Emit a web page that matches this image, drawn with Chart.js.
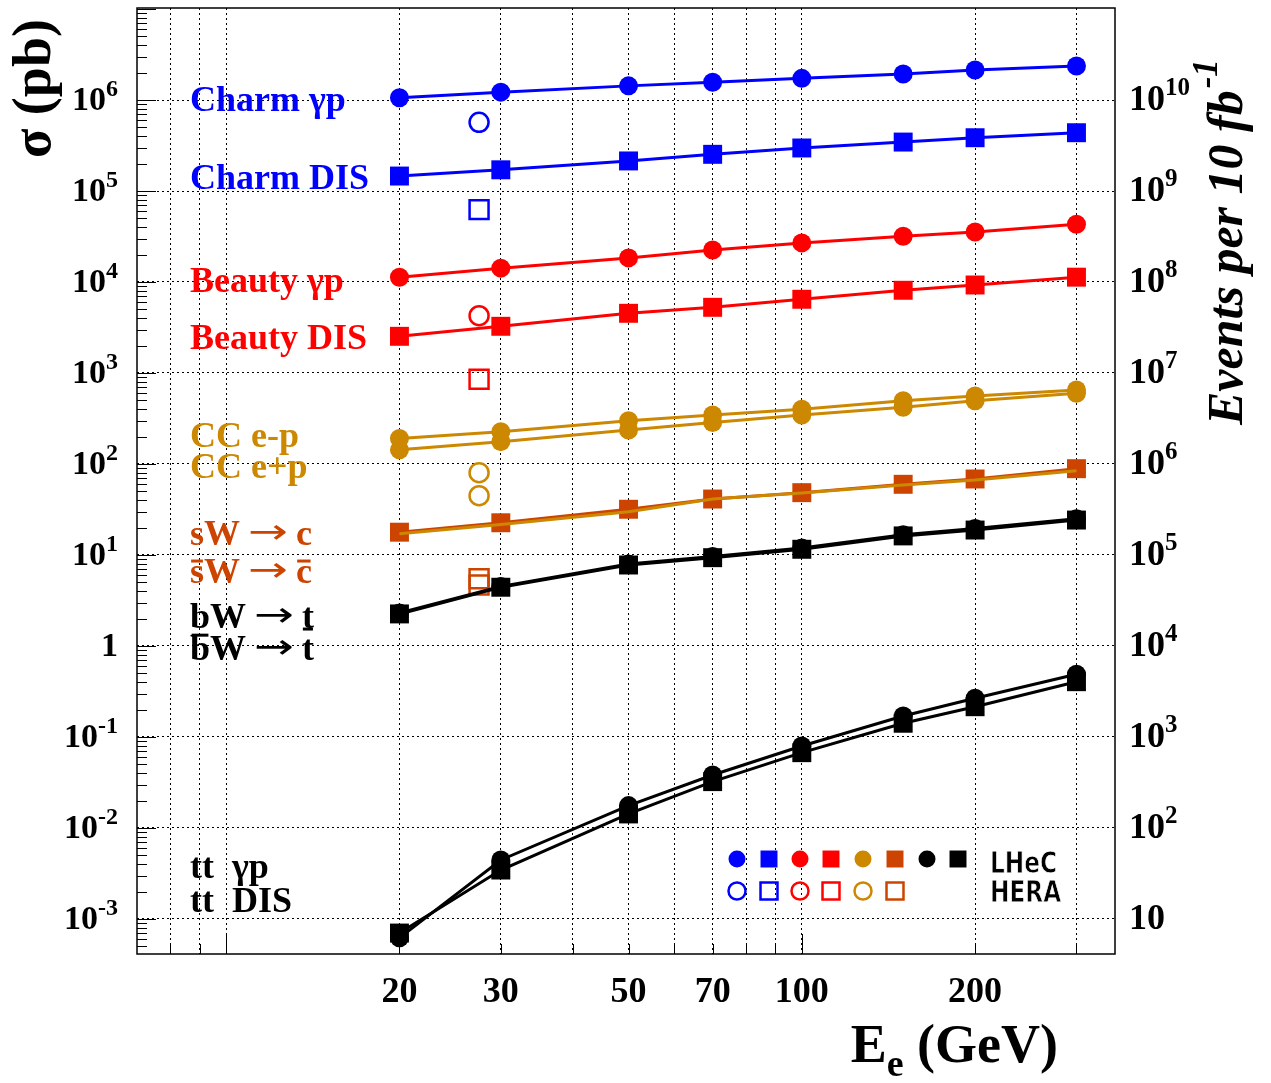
<!DOCTYPE html>
<html>
<head>
<meta charset="utf-8">
<script src="https://cdn.jsdelivr.net/npm/chart.js@4.4.0/dist/chart.umd.min.js"></script>
<style>
  body { margin: 0; background: #fff; }
  canvas { display: block; }
</style>
</head>
<body>
<canvas id="chart" width="1271" height="1083"></canvas>
<script>
// electron beam energies (GeV), HERA sits at 27.5
const energies = [20, 30, 50, 70, 100, 150, 200, 300];
const heraEnergy = 27.5;

// cross sections in pb
const charmGp   = [1.06e6, 1.22e6, 1.43e6, 1.57e6, 1.73e6, 1.93e6, 2.14e6, 2.37e6];
const charmDis  = [1.46e5, 1.71e5, 2.14e5, 2.53e5, 2.97e5, 3.45e5, 3.85e5, 4.37e5];
const beautyGp  = [1.13e4, 1.42e4, 1.84e4, 2.25e4, 2.69e4, 3.18e4, 3.54e4, 4.31e4];
const beautyDis = [2530, 3260, 4530, 5270, 6460, 8110, 9270, 11300];
const ccEminus  = [191, 226, 299, 345, 399, 496, 559, 650];
const ccEplus   = [143, 176, 236, 285, 345, 420, 496, 598];
const sWc       = [17.8, 22.6, 31.8, 41.2, 48.4, 59.8, 68.4, 88.8];
const sbarWc    = [17.1, 21.6, 29.9, 41.2, 48.0, 58.8, 66.7, 84.4];
const bWt       = [2.3, 4.5, 7.95, 9.6, 11.9, 16.7, 19.5, 25.0];
const bbarWt    = [2.25, 4.42, 7.76, 9.34, 11.55, 16.2, 18.8, 24.2];
const ttGp      = [6.2e-4, 4.45e-3, 0.0176, 0.0382, 0.0796, 0.170, 0.266, 0.489];
const ttDis     = [7.0e-4, 3.45e-3, 0.01426, 0.0323, 0.0672, 0.1415, 0.215, 0.405];

// HERA points: charm gp, charm DIS, beauty gp, beauty DIS, CC e-p, CC e+p, sW->c, sbarW->cbar
const heraValues = [5.69e5, 6.24e4, 4260, 853, 80.2, 44.8, 5.48, 4.68];

// axes
const xTickLabels = [20, 30, 50, 70, 100, 200];
const xGridValues = [8, 9, 10, 20, 30, 40, 50, 60, 70, 80, 90, 100, 200, 300];
const leftExponents = [-3, -2, -1, 0, 1, 2, 3, 4, 5, 6];
const rightExponents = [1, 2, 3, 4, 5, 6, 7, 8, 9, 10];
const lumiFactor = 1e4; // 10 fb^-1 = 1e4 pb^-1
const yMin = 4.12e-4, yMax = 1.026e7;

const BLUE = '#0000ff', RED = '#ff0000', GOLD = '#cc8800', RUST = '#cc4400', BLACK = '#000000';
const SERIF = "'Liberation Serif', 'Times New Roman', serif";

function series(label, values, color, style, order) {
  return {
    label: label,
    data: energies.map((e, i) => ({ x: e, y: values[i] })),
    borderColor: color,
    backgroundColor: color,
    borderWidth: 3,
    pointStyle: style,
    pointRadius: style === 'rect' ? 13.4 : 9.5,
    pointBorderWidth: 0,
    pointBackgroundColor: color,
    order: order
  };
}

function hera(label, value, color, style) {
  return {
    label: label,
    data: [{ x: heraEnergy, y: value }],
    showLine: false,
    borderColor: color,
    backgroundColor: 'rgba(0,0,0,0)',
    pointStyle: style,
    pointRadius: style === 'rect' ? 13.4 : 9.5,
    pointBorderWidth: 2.5,
    pointBorderColor: color,
    pointBackgroundColor: 'rgba(0,0,0,0)',
    order: 20
  };
}

let sbarLine = series('sbarW -> cbar', sbarWc, GOLD, 'rect', 0);
sbarLine.pointRadius = 0;

const datasets = [
  series('Charm gp', charmGp, BLUE, 'circle', 10),
  series('Charm DIS', charmDis, BLUE, 'rect', 10),
  series('Beauty gp', beautyGp, RED, 'circle', 10),
  series('Beauty DIS', beautyDis, RED, 'rect', 10),
  series('CC e-p', ccEminus, GOLD, 'circle', 10),
  series('CC e+p', ccEplus, GOLD, 'circle', 9),
  series('sW -> c', sWc, RUST, 'rect', 2),
  sbarLine,
  series('bW -> t', bWt, BLACK, 'circle', 6),
  series('bbarW -> tbar', bbarWt, BLACK, 'rect', 5),
  series('tt gp', ttGp, BLACK, 'circle', 6),
  series('tt DIS', ttDis, BLACK, 'rect', 5),
  hera('HERA charm gp', heraValues[0], BLUE, 'circle'),
  hera('HERA charm DIS', heraValues[1], BLUE, 'rect'),
  hera('HERA beauty gp', heraValues[2], RED, 'circle'),
  hera('HERA beauty DIS', heraValues[3], RED, 'rect'),
  hera('HERA CC e-p', heraValues[4], GOLD, 'circle'),
  hera('HERA CC e+p', heraValues[5], GOLD, 'circle'),
  hera('HERA sW', heraValues[6], RUST, 'rect'),
  hera('HERA sbarW', heraValues[7], RUST, 'rect')
];

// text drawn inside the frame, next to each group of curves
const arrow = { t: '→', arrow: true };
const curveLabels = [
  { parts: [{ t: 'Charm γp' }], color: BLUE, y: 111 },
  { parts: [{ t: 'Charm DIS' }], color: BLUE, y: 189 },
  { parts: [{ t: 'Beauty γp' }], color: RED, y: 292 },
  { parts: [{ t: 'Beauty DIS' }], color: RED, y: 349 },
  { parts: [{ t: 'CC e-p' }], color: GOLD, y: 447 },
  { parts: [{ t: 'CC e+p' }], color: GOLD, y: 478 },
  { parts: [{ t: 'sW' }, arrow, { t: 'c' }], color: RUST, y: 545 },
  { parts: [{ t: 's', bar: 0.61 }, { t: 'W' }, arrow, { t: 'c', bar: 0.61 }], color: RUST, y: 583 },
  { parts: [{ t: 'bW' }, arrow, { t: 't' }], color: BLACK, y: 628 },
  { parts: [{ t: 'b', bar: 0.69 }, { t: 'W' }, arrow, { t: 't', bar: 0.86 }], color: BLACK, y: 660 },
  { parts: [{ t: 'tt' }, { t: 'γp', x: 232 }], color: BLACK, y: 878 },
  { parts: [{ t: 'tt' }, { t: 'DIS', x: 232 }], color: BLACK, y: 912 }
];

const legendFilled = [[BLUE, 'circle'], [BLUE, 'rect'], [RED, 'circle'], [RED, 'rect'],
  [GOLD, 'circle'], [RUST, 'rect'], [BLACK, 'circle'], [BLACK, 'rect']];
const legendOpen = [[BLUE, 'circle'], [BLUE, 'rect'], [RED, 'circle'], [RED, 'rect'],
  [GOLD, 'circle'], [RUST, 'rect']];
const legendX = [737, 769, 800, 831, 863, 895, 927, 958];

function powerText(ctx, exp, x, y, align, size, plainTen) {
  let base = '10', sup = String(exp);
  if (exp === 0) { base = '1'; sup = ''; }
  if (exp === 1 && plainTen) sup = '';
  const supSize = Math.round(size * 0.7);
  ctx.font = 'bold ' + size + 'px ' + SERIF;
  const w1 = ctx.measureText(base).width;
  ctx.font = 'bold ' + supSize + 'px ' + SERIF;
  const w2 = sup ? ctx.measureText(sup).width : 0;
  let x0 = x;
  if (align === 'right') x0 = x - w1 - w2;
  if (align === 'center') x0 = x - (w1 + w2) / 2;
  ctx.textAlign = 'left';
  ctx.font = 'bold ' + size + 'px ' + SERIF;
  ctx.fillText(base, x0, y);
  if (sup) {
    ctx.font = 'bold ' + supSize + 'px ' + SERIF;
    ctx.fillText(sup, x0 + w1, y - size * 0.42);
  }
}

const decor = {
  id: 'decor',
  afterDraw(chart) {
    const ctx = chart.ctx;
    const a = chart.chartArea;
    const xs = chart.scales.x, ys = chart.scales.y, y2 = chart.scales.y2;
    ctx.save();
    ctx.fillStyle = BLACK;
    ctx.strokeStyle = BLACK;

    // frame
    ctx.lineWidth = 1.5;
    ctx.strokeRect(a.left, a.top, a.right - a.left, a.bottom - a.top);

    // small ticks on the left and bottom edges
    ctx.lineWidth = 1;
    ctx.beginPath();
    for (let d = -4; d <= 7; d++) {
      for (let k = 1; k <= 9; k++) {
        const v = k * Math.pow(10, d);
        if (v < ys.min || v > ys.max) continue;
        const py = Math.round(ys.getPixelForValue(v)) + 0.5;
        ctx.moveTo(a.left, py);
        ctx.lineTo(a.left + (k === 1 ? 19 : 10), py);
      }
    }
    xGridValues.forEach(v => {
      const px = Math.round(xs.getPixelForValue(v)) + 0.5;
      ctx.moveTo(px, a.bottom);
      ctx.lineTo(px, a.bottom - (v === 10 || v === 100 ? 20 : 10));
    });
    ctx.stroke();

    // tick labels
    ctx.textBaseline = 'alphabetic';
    leftExponents.forEach(e => {
      powerText(ctx, e, 118, ys.getPixelForValue(Math.pow(10, e)) + 10, 'right', 34, false);
    });
    rightExponents.forEach(e => {
      powerText(ctx, e, 1129, y2.getPixelForValue(Math.pow(10, e)) + 10, 'left', 36, true);
    });
    ctx.font = 'bold 36px ' + SERIF;
    ctx.textAlign = 'center';
    xTickLabels.forEach(v => {
      ctx.fillText(String(v), xs.getPixelForValue(v), 1002);
    });

    // axis titles
    ctx.textAlign = 'left';
    ctx.save();
    ctx.translate(50, 158);
    ctx.rotate(-Math.PI / 2);
    ctx.font = 'bold 54px ' + SERIF;
    ctx.fillText('σ (pb)', 0, 0);
    ctx.restore();

    ctx.save();
    ctx.translate(1242, 425);
    ctx.rotate(-Math.PI / 2);
    ctx.font = 'italic bold 50px ' + SERIF;
    const evText = 'Events per 10 fb';
    const ew = ctx.measureText(evText).width;
    ctx.fillText(evText, 0, 0);
    ctx.font = 'italic bold 35px ' + SERIF;
    ctx.fillText('-1', ew + 2, -25);
    ctx.restore();

    ctx.font = 'bold 54px ' + SERIF;
    const wE = ctx.measureText('E').width;
    const wRest = ctx.measureText(' (GeV)').width;
    ctx.font = 'bold 38px ' + SERIF;
    const wSub = ctx.measureText('e').width;
    let tx = 1058 - wE - wSub - wRest;
    ctx.font = 'bold 54px ' + SERIF;
    ctx.fillText('E', tx, 1062);
    ctx.font = 'bold 38px ' + SERIF;
    ctx.fillText('e', tx + wE, 1076);
    ctx.font = 'bold 54px ' + SERIF;
    ctx.fillText(' (GeV)', tx + wE + wSub, 1062);

    // curve labels
    curveLabels.forEach(lab => {
      ctx.fillStyle = lab.color;
      let cx = 190;
      lab.parts.forEach(p => {
        if (p.x !== undefined) cx = p.x;
        if (p.arrow) {
          // long thin arrow, stretched sideways like the symbol-font one
          ctx.font = "34px 'DejaVu Sans', sans-serif";
          const aw = ctx.measureText(p.t).width;
          ctx.save();
          ctx.translate(cx + 8, lab.y - 2);
          ctx.scale(1.4, 1);
          ctx.fillText(p.t, 0, 0);
          ctx.restore();
          cx += aw * 1.4 + 16;
          return;
        }
        ctx.font = 'bold 36px ' + SERIF;
        const w = ctx.measureText(p.t).width;
        ctx.fillText(p.t, cx, lab.y);
        if (p.bar) ctx.fillRect(cx + w * 0.08, lab.y - 36 * p.bar - 1.5, w * 0.84, 3);
        cx += w;
      });
    });

    // marker key
    const drawPoint = Chart.helpers.drawPoint;
    legendFilled.forEach((m, i) => {
      ctx.fillStyle = m[0];
      ctx.strokeStyle = m[0];
      drawPoint(ctx, { pointStyle: m[1], radius: m[1] === 'rect' ? 12 : 8.5, rotation: 0, borderWidth: 0 }, legendX[i], 859);
    });
    legendOpen.forEach((m, i) => {
      ctx.fillStyle = 'rgba(0,0,0,0)';
      ctx.strokeStyle = m[0];
      ctx.lineWidth = 2.5;
      drawPoint(ctx, { pointStyle: m[1], radius: m[1] === 'rect' ? 12 : 8.5, rotation: 0, borderWidth: 2.5 }, legendX[i], 891);
    });
    ['LHeC', 'HERA'].forEach((t, i) => {
      ctx.save();
      ctx.translate(990, 873 + i * 29);
      ctx.scale(0.75, 1);
      ctx.font = "bold 31px 'DejaVu Sans', sans-serif";
      ctx.fillStyle = BLACK;
      ctx.fillText(t, 0, 0);
      ctx.strokeStyle = '#ffffff';
      ctx.lineWidth = 0.8;
      ctx.strokeText(t, 0, 0);
      ctx.restore();
    });

    ctx.restore();
  }
};

const gridStyle = { color: BLACK, lineWidth: 1, drawTicks: false };

new Chart(document.getElementById('chart'), {
  type: 'line',
  data: { datasets: datasets },
  plugins: [decor],
  options: {
    responsive: false,
    devicePixelRatio: 1,
    animation: false,
    events: [],
    layout: { autoPadding: false, padding: { top: 8, left: 0, right: 0, bottom: 0 } },
    plugins: { legend: { display: false }, tooltip: { enabled: false } },
    elements: { line: { tension: 0 } },
    scales: {
      x: {
        type: 'logarithmic',
        min: 7,
        max: 350,
        bounds: 'data',
        position: 'bottom',
        ticks: { display: false },
        grid: gridStyle,
        border: { display: false, dash: [2, 3] },
        afterBuildTicks: s => { s.ticks = xGridValues.map(v => ({ value: v })); },
        afterFit: s => { s.height = 129; }
      },
      y: {
        type: 'logarithmic',
        min: yMin,
        max: yMax,
        bounds: 'data',
        position: 'left',
        ticks: { display: false },
        grid: gridStyle,
        border: { display: false, dash: [2, 3] },
        afterBuildTicks: s => { s.ticks = leftExponents.map(e => ({ value: Math.pow(10, e) })); },
        afterFit: s => { s.width = 137; }
      },
      y2: {
        type: 'logarithmic',
        min: yMin * lumiFactor,
        max: yMax * lumiFactor,
        bounds: 'data',
        position: 'right',
        ticks: { display: false },
        grid: { display: false, drawTicks: false },
        border: { display: false },
        afterFit: s => { s.width = 156; }
      }
    }
  }
});
</script>
</body>
</html>
